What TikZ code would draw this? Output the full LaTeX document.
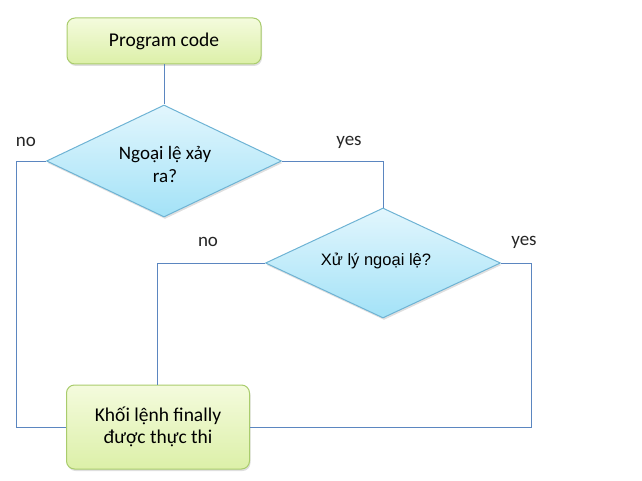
\documentclass[tikz,border=0pt]{standalone}
\usepackage{fontspec}
\setmainfont{Carlito}
\newfontfamily\arialf{Liberation Sans}
\usetikzlibrary{shapes.geometric,shadows}
\definecolor{lineblue}{HTML}{5B86C0}
\definecolor{boxtop}{HTML}{F4FBDD}
\definecolor{boxbot}{HTML}{DCF0A8}
\definecolor{boxdraw}{HTML}{A9CC6C}
\definecolor{diatop}{HTML}{E2F6FD}
\definecolor{diabot}{HTML}{A3E2F7}
\definecolor{diadraw}{HTML}{6EB3D4}
\begin{document}
\begin{tikzpicture}[x=1pt,y=-1pt,
  procbox/.style={rectangle,rounded corners=8pt,draw=boxdraw,line width=1pt,
    top color=boxtop,bottom color=boxbot,align=center,inner sep=0pt,
    drop shadow={shadow xshift=1pt,shadow yshift=-2pt,opacity=0.25},
    font=\fontsize{19.5}{22}\selectfont},
  decision/.style={diamond,draw=diadraw,line width=1pt,
    top color=diatop,bottom color=diabot,aspect=2.1,inner sep=0pt,align=center,
    drop shadow={shadow xshift=1pt,shadow yshift=-2pt,opacity=0.25}},
  conn/.style={draw=lineblue,line width=0.8pt},
  lbl/.style={font=\fontsize{19}{22}\selectfont,text=black!85}]
\useasboundingbox (0,0) rectangle (642,481);
\node[procbox,minimum width=194pt,minimum height=46pt] (code) at (164,41) {Program code};
\node[decision,minimum width=235pt,minimum height=112pt] (d1) at (164,161) {};
\node[align=center,font=\fontsize{19}{23}\selectfont] (d1t) at (165,164) {Ngoại lệ xảy\\ra?};
\node[decision,minimum width=235pt,minimum height=110pt] (d2) at (383,263) {};
\node[font=\arialf\fontsize{16.5}{20}\selectfont] (d2t) at (376,261) {Xử lý ngoại lệ?};
\node[procbox,minimum width=183pt,minimum height=84pt] (fin) at (158,427) {Khối lệnh finally\\được thực thi};
\coordinate (a1) at (16,161);
\coordinate (a2) at (16,427);
\coordinate (b1) at (383,161);
\coordinate (c1) at (157,263);
\coordinate (e1) at (531,263);
\coordinate (e2) at (531,427);
\draw[conn] (code.south) -- (d1.north);
\draw[conn] (d1.west) -- (a1) -- (a2) -- (fin.west);
\draw[conn] (d1.east) -- (b1) -- (d2.north);
\draw[conn] (d2.west) -- (c1) -- (c1 |- fin.north);
\draw[conn] (d2.east) -- (e1) -- (e2) -- (fin.east);
\node[lbl] (n1) at (26,142) {no};
\node[lbl] (y1) at (349,142) {yes};
\node[lbl] (n2) at (208,242) {no};
\node[lbl] (y2) at (524,242) {yes};
\end{tikzpicture}
\end{document}
